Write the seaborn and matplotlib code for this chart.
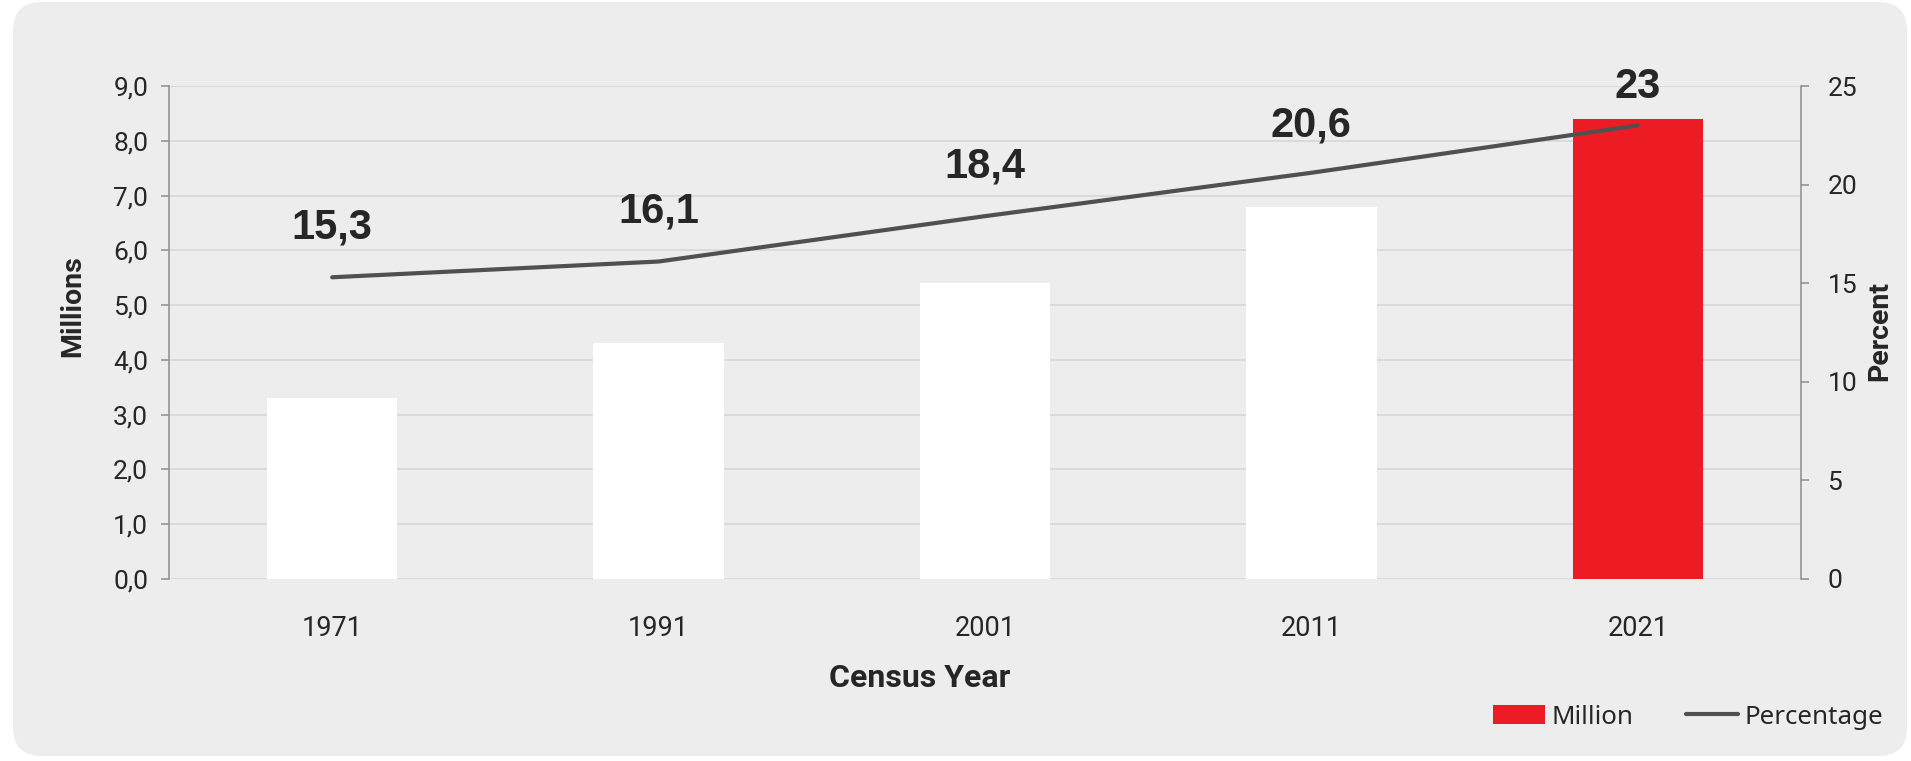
import matplotlib
matplotlib.use("Agg")
import matplotlib.pyplot as plt
from matplotlib.patches import FancyBboxPatch, Patch
from matplotlib.lines import Line2D
from matplotlib.ticker import FuncFormatter, MultipleLocator
import seaborn as sns
import pandas as pd

# ---- data ----
years = ["1971", "1991", "2001", "2011", "2021"]
millions = [3.3, 4.3, 5.4, 6.8, 8.4]
percentage = [15.3, 16.1, 18.4, 20.6, 23.0]
bar_colors = ["#FFFFFF", "#FFFFFF", "#FFFFFF", "#FFFFFF", "#ED1C24"]

sns.set_theme(style="white")
plt.rcParams["font.family"] = ["Roboto", "DejaVu Sans"]

W, H, DPI = 1911, 761, 100
fig = plt.figure(figsize=(W / DPI, H / DPI), dpi=DPI, facecolor="white")

# rounded grey panel
bg = FancyBboxPatch((13 / W, 5 / H), (1907 - 13) / W, (759 - 5) / H,
                    boxstyle="round,pad=0,rounding_size=0.015",
                    transform=fig.transFigure, facecolor="#EDEDED",
                    edgecolor="none", mutation_aspect=W / H, zorder=-10)
fig.patches.append(bg)

ax = fig.add_axes([169 / W, 1 - 579 / H, (1801 - 169) / W, (579 - 86) / H])
ax.set_facecolor("none")
ax.set_zorder(1)

df = pd.DataFrame({"year": years, "million": millions, "pct": percentage})
sns.barplot(data=df, x="year", y="million", hue="year",
            palette=dict(zip(years, bar_colors)), width=0.40,
            legend=False, ax=ax, saturation=1, edgecolor="none")
ax.set_xlim(-0.5, 4.5)
ax.set_ylim(0, 9)
ax.yaxis.set_major_locator(MultipleLocator(1))
ax.yaxis.set_major_formatter(FuncFormatter(lambda v, p: f"{v:.1f}".replace(".", ",")))
ax.grid(axis="y", color="#D9D9D9", linewidth=1.3)
ax.grid(axis="x", visible=False)
ax.set_axisbelow(True)
for s in ["top", "right", "bottom"]:
    ax.spines[s].set_visible(False)
ax.spines["left"].set_color("#8C8C8C")
ax.spines["left"].set_linewidth(1.1)
ax.tick_params(axis="y", which="major", left=True, length=6, width=1.1,
               color="#8C8C8C", labelsize=19, labelcolor="#262626", pad=9)
ax.tick_params(axis="x", bottom=False, labelsize=19.5, labelcolor="#262626", pad=20)
ax.set_xlabel("")
ax.set_ylabel("Millions", fontsize=20.5, fontweight="bold", color="#262626")
ax.yaxis.label.set_verticalalignment("center")
ax.yaxis.set_label_coords(-0.0588, 0.554)

ax2 = ax.twinx()
ax2.set_facecolor("none")
ax2.set_zorder(2)
sns.lineplot(data=df, x="year", y="pct", ax=ax2, color="#505050",
             linewidth=3.0, sort=False, legend=False)
ax2.set_ylim(0, 25)
ax2.set_xlim(-0.5, 4.5)
ax2.yaxis.set_major_locator(MultipleLocator(5))
ax2.yaxis.set_major_formatter(FuncFormatter(lambda v, p: f"{v:.0f}"))
for s in ["top", "left", "bottom"]:
    ax2.spines[s].set_visible(False)
ax2.spines["right"].set_color("#8C8C8C")
ax2.spines["right"].set_linewidth(1.1)
ax2.tick_params(axis="y", right=True, length=6, width=1.1, color="#8C8C8C",
                labelsize=19, labelcolor="#262626", pad=13)
ax2.grid(False)
ax2.set_xlabel("")
ax2.set_ylabel("Percent", fontsize=20.5, fontweight="bold", color="#262626")
ax2.yaxis.label.set_verticalalignment("center")
ax2.yaxis.set_label_coords(1.0484, 0.503)

label_offsets = [50, 50, 50, 47, 38]
for i, (v, off) in enumerate(zip(percentage, label_offsets)):
    ax2.annotate(f"{v:g}".replace(".", ","), xy=(i, v), xytext=(0, off),
                 textcoords="offset pixels", ha="center", va="center",
                 fontsize=30, fontweight="bold", color="#262626",
                 family=["Liberation Sans", "DejaVu Sans"], annotation_clip=False)

fig.text(920 / W, 1 - 678 / H, "Census Year", ha="center", va="center",
         fontsize=23, fontweight="bold", color="#262626")

handles = [Patch(facecolor="#ED1C24", edgecolor="none", label="Million"),
           Line2D([0], [0], color="#505050", linewidth=3.0,
                  solid_capstyle="round", label="Percentage")]
fig.legend(handles=handles, loc="center right", bbox_to_anchor=(1883 / W, 1 - 717 / H),
           ncol=2, frameon=False, handlelength=2.0,
           handletextpad=0.25, columnspacing=2.0, borderaxespad=0, borderpad=0,
           prop={"family": ["Noto Sans", "DejaVu Sans"], "size": 18.7},
           labelcolor="#262626")

fig.savefig("out.png", dpi=DPI, facecolor="white")
